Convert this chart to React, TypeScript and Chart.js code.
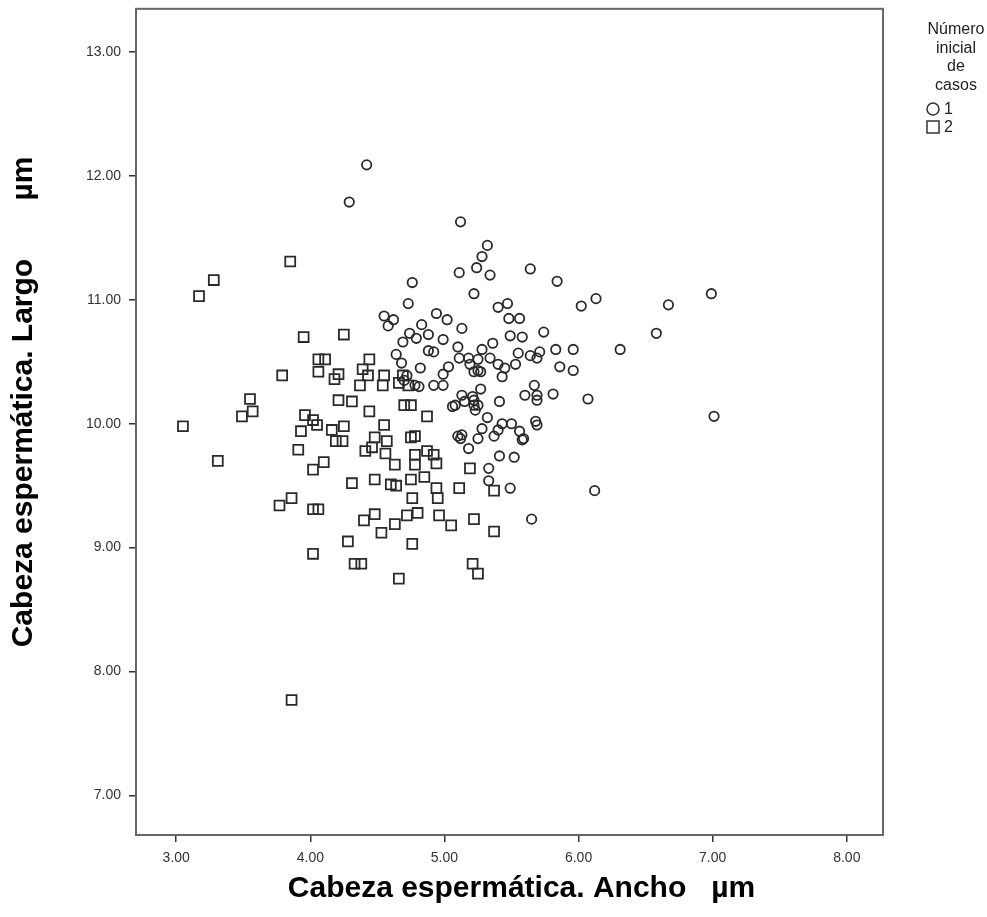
import { useEffect, useRef } from "react";
import { Chart, registerables } from "chart.js";

Chart.register(...registerables);

const xTicks = [3, 4, 5, 6, 7, 8];
const yTicks = [7, 8, 9, 10, 11, 12, 13];
const xTitle = "Cabeza espermática. Ancho   µm";
const yTitle = "Cabeza espermática. Largo       µm";
const legendTitle = ["Número", "inicial", "de", "casos"];
const groupLabels = ["1", "2"];

// Grupo 1 (círculos)
const group1Ancho = [
  4.42, 4.29, 5.12, 5.32, 5.28, 5.24, 5.11, 5.34, 5.64, 5.84, 5.22, 5.47, 5.40, 5.48, 5.56, 6.02, 6.13,
  5.02, 5.13, 4.99, 5.74, 5.49, 5.58, 5.83, 5.96, 6.31, 5.36, 5.28, 5.10, 5.11, 5.18, 5.25, 5.34, 5.55,
  5.64, 5.71, 5.69, 5.40, 5.45, 5.53, 5.03, 4.99, 5.19, 5.22, 5.27, 5.43, 5.86, 5.96, 4.99, 5.27, 5.13,
  5.67, 5.60, 5.69, 5.81, 6.07, 5.41, 6.99, 6.67, 6.58, 7.01, 6.12, 4.76, 4.73, 4.55, 4.62, 4.58, 4.94,
  4.83, 4.74, 4.79, 4.88, 4.69, 4.64, 4.88, 4.92, 4.68, 4.82, 4.72, 4.70, 4.78, 4.81, 4.92, 5.25, 5.08,
  5.15, 5.22, 5.25, 5.33, 5.33, 5.49, 5.65, 5.41, 5.52, 5.18, 5.10, 5.12, 5.13, 5.25, 5.28, 5.32, 5.37,
  5.40, 5.43, 5.50, 5.56, 5.58, 5.59, 5.68, 5.69, 5.06, 5.21, 5.22, 5.23, 5.69,
];
const group1Largo = [
  12.09, 11.79, 11.63, 11.44, 11.35, 11.26, 11.22, 11.20, 11.25, 11.15, 11.05, 10.97, 10.94, 10.85, 10.85,
  10.95, 11.01, 10.84, 10.77, 10.68, 10.74, 10.71, 10.70, 10.60, 10.60, 10.60, 10.65, 10.60, 10.62, 10.53,
  10.53, 10.52, 10.53, 10.57, 10.55, 10.58, 10.53, 10.48, 10.45, 10.48, 10.46, 10.40, 10.48, 10.42, 10.42,
  10.38, 10.46, 10.43, 10.31, 10.28, 10.23, 10.31, 10.23, 10.23, 10.24, 10.20, 10.18, 11.05, 10.96, 10.73,
  10.06, 9.46, 11.14, 10.97, 10.87, 10.84, 10.79, 10.89, 10.80, 10.73, 10.69, 10.72, 10.66, 10.56, 10.59,
  10.58, 10.49, 10.45, 10.39, 10.35, 10.31, 10.30, 10.31, 10.43, 10.15, 10.18, 10.19, 10.15, 9.64, 9.54,
  9.48, 9.23, 9.74, 9.73, 9.80, 9.90, 9.88, 9.91, 9.88, 9.96, 10.05, 9.90, 9.95, 10.00, 10.00, 9.94, 9.87,
  9.88, 10.02, 9.99, 10.14, 10.22, 10.15, 10.11, 10.19,
];

// Grupo 2 (cuadrados)
const group2Ancho = [
  3.85, 3.28, 3.17, 3.95, 4.25, 4.06, 4.11, 4.44, 4.06, 4.21, 4.18, 4.39, 4.43, 4.55, 3.79, 4.37, 4.54,
  4.66, 4.69, 4.73, 4.21, 4.31, 4.70, 4.75, 4.44, 3.55, 3.57, 3.49, 3.05, 3.31, 3.96, 4.02, 4.05, 3.93,
  4.16, 4.25, 4.19, 4.24, 3.91, 4.02, 4.10, 3.86, 3.77, 4.02, 4.06, 4.02, 4.87, 4.55, 4.48, 4.57, 4.41,
  4.46, 4.56, 4.75, 4.78, 4.78, 4.87, 4.78, 4.85, 4.94, 4.92, 4.63, 4.31, 4.48, 4.60, 4.64, 4.75, 4.94,
  4.95, 4.76, 5.11, 5.19, 4.48, 4.40, 4.53, 4.63, 4.72, 4.80, 4.96, 5.05, 5.22, 4.28, 4.76, 4.33, 4.38,
  4.66, 5.21, 5.25, 5.37, 5.37, 3.86,
];
const group2Largo = [
  11.31, 11.16, 11.03, 10.70, 10.72, 10.52, 10.52, 10.52, 10.42, 10.40, 10.36, 10.44, 10.39, 10.39, 10.39,
  10.31, 10.31, 10.33, 10.39, 10.31, 10.19, 10.18, 10.15, 10.15, 10.10, 10.20, 10.10, 10.06, 9.98, 9.70,
  10.07, 10.03, 9.99, 9.94, 9.95, 9.98, 9.86, 9.86, 9.79, 9.63, 9.69, 9.40, 9.34, 9.31, 9.31, 8.95, 10.06,
  9.99, 9.89, 9.86, 9.78, 9.81, 9.76, 9.89, 9.90, 9.75, 9.78, 9.67, 9.57, 9.68, 9.75, 9.67, 9.52, 9.55,
  9.51, 9.50, 9.55, 9.48, 9.40, 9.40, 9.48, 9.64, 9.27, 9.22, 9.12, 9.19, 9.26, 9.28, 9.26, 9.18, 9.23,
  9.05, 9.03, 8.87, 8.87, 8.75, 8.87, 8.79, 9.46, 9.13, 7.77,
];

const toPoints = (xs: number[], ys: number[]) => xs.map((x, i) => ({ x, y: ys[i] }));

const FONT = '"Liberation Sans", Arial, sans-serif';

const framePlugin = {
  id: "frame",
  beforeDatasetsDraw(chart: any) {
    const { ctx, chartArea } = chart;
    ctx.save();
    ctx.strokeStyle = "#666";
    ctx.lineWidth = 2;
    ctx.strokeRect(chartArea.left, chartArea.top, chartArea.right - chartArea.left, chartArea.bottom - chartArea.top);
    ctx.restore();
  },
};

const titlePlugin = {
  id: "axisTitles",
  afterDraw(chart: any) {
    const { ctx, chartArea } = chart;
    ctx.save();
    ctx.fillStyle = "#000";
    ctx.font = `bold 30px ${FONT}`;
    ctx.textAlign = "center";
    ctx.textBaseline = "middle";
    ctx.fillText(xTitle, (chartArea.left + chartArea.right) / 2 + 12, 889);
    ctx.translate(24, (chartArea.top + chartArea.bottom) / 2 - 20);
    ctx.rotate(-Math.PI / 2);
    ctx.fillText(yTitle, 0, 0);
    ctx.restore();
  },
};

const legendPlugin = {
  id: "customLegend",
  afterDraw(chart: any) {
    const { ctx } = chart;
    ctx.save();
    ctx.fillStyle = "#222";
    ctx.font = `16px ${FONT}`;
    ctx.textAlign = "center";
    ctx.textBaseline = "middle";
    const cx = 956;
    const ys = [30, 49, 67, 86];
    legendTitle.forEach((t, i) => ctx.fillText(t, cx, ys[i]));
    ctx.strokeStyle = "#333";
    ctx.lineWidth = 1.5;
    ctx.beginPath();
    ctx.arc(933, 109, 6, 0, Math.PI * 2);
    ctx.stroke();
    ctx.strokeRect(927, 121, 12, 12);
    ctx.textAlign = "left";
    ctx.fillText(groupLabels[0], 944, 110);
    ctx.fillText(groupLabels[1], 944, 128);
    ctx.restore();
  },
};

export default function App() {
  const ref = useRef<HTMLCanvasElement>(null);
  useEffect(() => {
    if (!ref.current) return;
    const chart = new Chart(ref.current, {
      type: "scatter",
      data: {
        datasets: [
          {
            label: groupLabels[0],
            data: toPoints(group1Ancho, group1Largo),
            pointStyle: "circle",
            pointRadius: 4.7,
            pointBorderWidth: 1.8,
            borderColor: "#2a2a2a",
            backgroundColor: "rgba(0,0,0,0)",
          },
          {
            label: groupLabels[1],
            data: toPoints(group2Ancho, group2Largo),
            pointStyle: "rect",
            pointRadius: 7,
            pointBorderWidth: 1.8,
            borderColor: "#2a2a2a",
            backgroundColor: "rgba(0,0,0,0)",
          },
        ],
      },
      options: {
        animation: false,
        responsive: false,
        devicePixelRatio: 1,
        layout: { padding: { left: 0, right: 104, top: 6, bottom: 0 } },
        plugins: { legend: { display: false }, tooltip: { enabled: false } },
        scales: {
          x: {
            type: "linear",
            min: 2.7,
            max: 8.27,
            afterBuildTicks: (s: any) => {
              s.ticks = xTicks.map((v) => ({ value: v }));
            },
            afterFit: (s: any) => {
              s.height = 82;
              s.paddingLeft = 0;
              s.paddingRight = 0;
            },
            ticks: {
              callback: (v: any) => Number(v).toFixed(2),
              font: { family: FONT, size: 14 },
              color: "#333",
              padding: 8,
              maxRotation: 0,
            },
            grid: { drawOnChartArea: false, drawTicks: true, tickLength: 7, color: "#333", lineWidth: 1.5 },
            border: { display: true, color: "#333", width: 1.5 },
            title: { display: false },
          },
          y: {
            type: "linear",
            min: 6.68,
            max: 13.35,
            afterBuildTicks: (s: any) => {
              s.ticks = yTicks.map((v) => ({ value: v }));
            },
            afterFit: (s: any) => {
              s.width = 136;
              s.paddingTop = 0;
              s.paddingBottom = 0;
            },
            ticks: {
              callback: (v: any) => Number(v).toFixed(2),
              font: { family: FONT, size: 14 },
              color: "#333",
              padding: 8,
            },
            grid: { drawOnChartArea: false, drawTicks: true, tickLength: 7, color: "#333", lineWidth: 1.5 },
            border: { display: true, color: "#333", width: 1.5 },
            title: { display: false },
          },
        },
      },
      plugins: [framePlugin, titlePlugin, legendPlugin],
    } as any);
    return () => chart.destroy();
  }, []);
  return (
    <div style={{ position: "absolute", left: 0, top: 0, width: 987, height: 917, background: "#fff" }}>
      <canvas ref={ref} width={987} height={917} style={{ display: "block" }} />
    </div>
  );
}
